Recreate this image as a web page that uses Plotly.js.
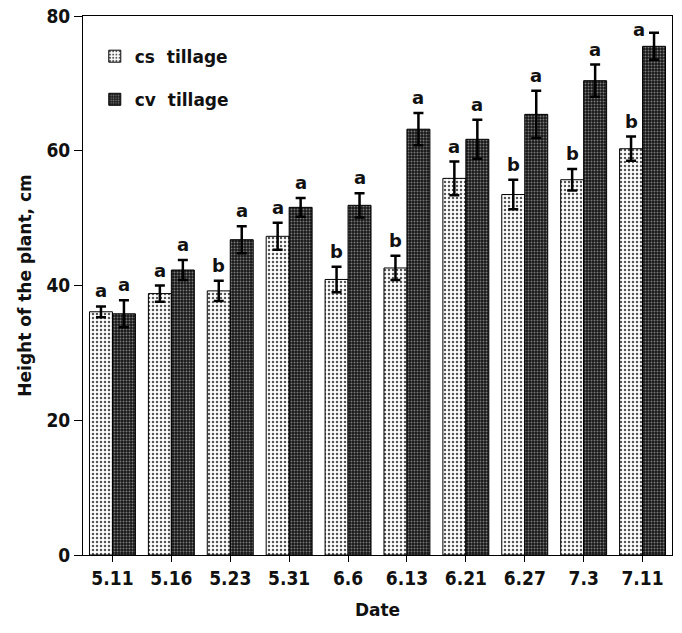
<!DOCTYPE html>
<html>
<head>
<meta charset="utf-8">
<script src="https://cdn.plot.ly/plotly-3.0.1.min.js"></script>
<style>html,body{margin:0;padding:0;background:#fff;}#chart{width:682px;height:633px;}</style>
</head>
<body>
<div id="chart"></div>
<script>
var dates = ["5.11","5.16","5.23","5.31","6.6","6.13","6.21","6.27","7.3","7.11"];
var csValues = [36.1, 38.8, 39.2, 47.3, 40.9, 42.6, 55.9, 53.5, 55.7, 60.3];
var csErrors = [0.8, 1.2, 1.5, 2.0, 1.9, 1.8, 2.5, 2.2, 1.6, 1.8];
var cvValues = [35.8, 42.3, 46.8, 51.6, 51.9, 63.2, 61.7, 65.4, 70.4, 75.5];
var cvErrors = [2.0, 1.5, 2.0, 1.4, 1.8, 2.4, 2.9, 3.5, 2.4, 2.0];
var csLetters = ["a","a","b","a","b","b","a","b","b","b"];
var cvLetters = ["a","a","a","a","a","a","a","a","a","a"];

(function () {
var tickFont = {family: "DejaVu Sans Condensed, Liberation Sans Narrow, Arial, sans-serif", size: 19, color: "#111", weight: "bold"};
var fam = "DejaVu Sans, Liberation Sans, Arial, sans-serif";

var traces = [
  {
    type: "bar", name: "cs  tillage", x: dates, y: csValues, legendgroup: "cs",
    error_y: {type: "data", array: csErrors, visible: true, color: "#000", thickness: 2.5, width: 5},
    marker: {color: "#fff", line: {color: "#000", width: 1},
      pattern: {shape: ".", bgcolor: "#fff", fgcolor: "#555", size: 4, solidity: 0.3, fillmode: "replace"}}
  },
  {
    type: "bar", name: "cv  tillage", x: dates, y: cvValues, legendgroup: "cv",
    error_y: {type: "data", array: cvErrors, visible: true, color: "#000", thickness: 2.5, width: 5},
    marker: {color: "#222", line: {color: "#000", width: 1},
      pattern: {shape: ".", bgcolor: "#161616", fgcolor: "#7a7a7a", size: 3, solidity: 0.35, fillmode: "replace"}}
  }
];

var annotations = [];
var off = 0.195;
var letterFont = {family: fam, size: 18, color: "#111", weight: "bold"};
for (var i = 0; i < dates.length; i++) {
  annotations.push({xref: "x", yref: "y", x: i - off, y: csValues[i] + csErrors[i], text: csLetters[i],
    showarrow: false, yanchor: "bottom", yshift: 3, font: letterFont});
  var barTop = cvValues[i] + cvErrors[i];
  if (barTop > 75) {
    annotations.push({xref: "x", yref: "y", x: i + off, y: barTop, text: cvLetters[i],
      showarrow: false, xanchor: "right", yanchor: "middle", xshift: -7, yshift: 3, font: letterFont});
  } else {
    annotations.push({xref: "x", yref: "y", x: i + off, y: barTop, text: cvLetters[i],
      showarrow: false, yanchor: "bottom", yshift: 3, font: letterFont});
  }
}

var layout = {
  width: 682, height: 633,
  margin: {l: 83, r: 10, t: 16, b: 78},
  paper_bgcolor: "#fff", plot_bgcolor: "#fff",
  barmode: "group", bargap: 0.22, bargroupgap: 0,
  showlegend: true,
  legend: {x: 0.02, y: 0.958, xanchor: "left", yanchor: "top", bgcolor: "rgba(0,0,0,0)",
    font: {family: fam, size: 17, color: "#111", weight: "bold"}, itemwidth: 30, tracegroupgap: 18},
  xaxis: {
    type: "category", showline: true, linecolor: "#000", linewidth: 1, mirror: true,
    ticks: "outside", ticklen: 6, tickcolor: "#000", tickfont: tickFont, showgrid: false,
    title: {text: "Date", font: {family: fam, size: 17, color: "#111", weight: "bold"}, standoff: 16}
  },
  yaxis: {
    range: [0, 80], tickvals: [0, 20, 40, 60, 80], showline: true, linecolor: "#000", linewidth: 1, mirror: true,
    ticks: "outside", ticklen: 8, tickcolor: "#000", tickfont: tickFont, showgrid: false, zeroline: false,
    title: {text: "Height of the plant, cm", font: {family: fam, size: 17, color: "#111", weight: "bold"}, standoff: 10}
  },
  annotations: annotations
};

Plotly.newPlot("chart", traces, layout, {displayModeBar: false, staticPlot: true});
})();
</script>
</body>
</html>
